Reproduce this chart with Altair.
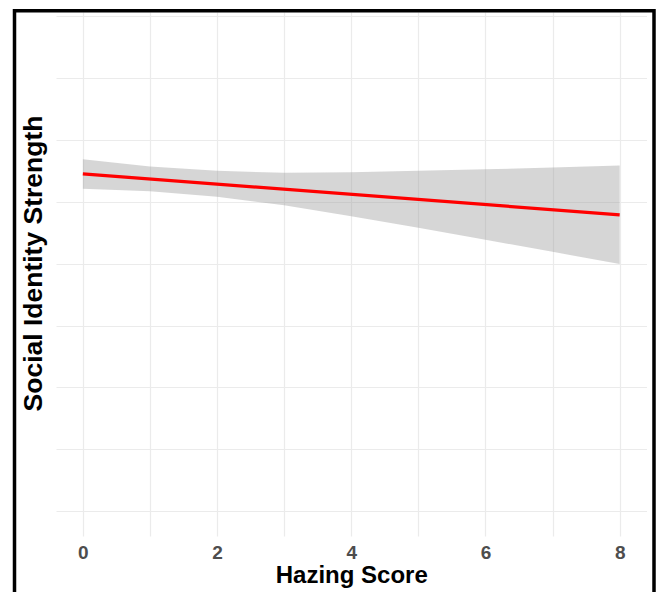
import altair as alt
import pandas as pd

# Hazing score grid where the regression band was evaluated
hazing = [0, 1, 2, 3, 4, 5, 6, 7, 8]
# 95% confidence band of the linear fit
band_upper = [3.842, 3.785, 3.749, 3.733, 3.737, 3.749, 3.761, 3.777, 3.792]
band_lower = [3.604, 3.584, 3.539, 3.471, 3.382, 3.289, 3.192, 3.095, 2.996]
# Fitted line endpoints
fit_x = [0, 8]
fit_y = [3.725, 3.394]

x_ticks = [0, 1, 2, 3, 4, 5, 6, 7, 8]
y_grid = [1.0, 1.5, 2.0, 2.5, 3.0, 3.5, 4.0, 4.5, 5.0]

band_df = pd.DataFrame({"hazing": hazing, "lower": band_lower, "upper": band_upper})
fit_df = pd.DataFrame({"hazing": fit_x, "identity": fit_y})

x_scale = alt.Scale(domain=[-0.4, 8.4], nice=False, zero=False)
y_scale = alt.Scale(domain=[0.8, 5.032], nice=False, zero=False)

x_axis = alt.Axis(
    values=x_ticks,
    format="d",
    labelExpr="datum.value % 2 == 0 ? datum.label : ''",
    title="Hazing Score",
    grid=True,
    gridColor="#ebebeb",
    gridWidth=1.2,
    domain=False,
    ticks=False,
    labelFont="Liberation Sans",
    labelFontSize=19,
    labelFontWeight="bold",
    labelColor="#4d4d4d",
    labelPadding=7,
    titleFont="Liberation Sans",
    titleFontSize=24,
    titleFontWeight="bold",
    titleColor="#000000",
    titlePadding=1,
)

y_axis = alt.Axis(
    values=y_grid,
    labels=False,
    title="Social Identity Strength",
    grid=True,
    gridColor="#ebebeb",
    gridWidth=1.2,
    domain=False,
    ticks=False,
    titleFont="Liberation Sans",
    titleFontSize=26.5,
    titleFontWeight="bold",
    titleColor="#000000",
    titleX=-23,
    titleY=251,
    titleBaseline="middle",
    titleAngle=-90,
)

band = alt.Chart(band_df).mark_area(color="#999999", opacity=0.4).encode(
    x=alt.X("hazing:Q", scale=x_scale, axis=x_axis),
    y=alt.Y("lower:Q", scale=y_scale, axis=y_axis),
    y2="upper:Q",
)

fit = alt.Chart(fit_df).mark_line(color="#ff0000", strokeWidth=3.3).encode(
    x=alt.X("hazing:Q", scale=x_scale),
    y=alt.Y("identity:Q", scale=y_scale),
)

# Black frame around the whole figure
frame = alt.Chart(pd.DataFrame({"k": [0]})).mark_rect(
    fillOpacity=0, stroke="#000000", strokeWidth=3.5
).encode(
    x=alt.value(-41.5), x2=alt.value(598), y=alt.value(-1.3), y2=alt.value(600)
)

chart = alt.layer(band, fit, frame).properties(
    width=590.5,
    height=524,
    padding={"left": 56, "top": 12, "right": 11.5, "bottom": 56},
    autosize=alt.AutoSizeParams(type="none"),
    background="#ffffff",
).configure_view(stroke=None)

chart.save("out.html", embed_options={"renderer": "svg", "actions": False})
